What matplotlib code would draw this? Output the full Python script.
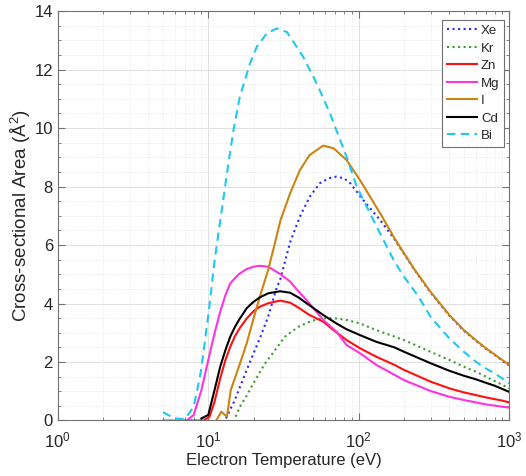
import matplotlib
matplotlib.use('Agg')
import matplotlib.pyplot as plt
from matplotlib.ticker import LogLocator, MultipleLocator

# Electron temperature (eV) and cross-sectional area (A^2)
xe_t = [13.1, 15, 18, 20, 22, 25, 28.6, 30, 35, 40.6, 47.2, 55, 63, 71, 80, 88, 107, 139, 173,
        200, 236, 300, 400, 500, 600, 700, 800, 900, 1000]
xe_s = [0.07, 0.70, 1.73, 2.30, 2.81, 3.55, 4.57, 4.80, 6.1, 6.97, 7.65, 8.11, 8.28, 8.34, 8.28, 8.11, 7.54,
        6.85, 6.2, 5.70, 5.13, 4.38, 3.59, 3.07, 2.73, 2.45, 2.24, 2.05, 1.88]

kr_t = [15.2, 16.2, 18, 19.4, 22, 23.9, 27.8, 32.3, 39.8, 48.8, 58, 68, 83, 102, 131, 173, 200,
        300, 400, 500, 600, 700, 800, 900, 1000]
kr_s = [0.13, 0.47, 0.85, 1.16, 1.65, 1.96, 2.41, 2.87, 3.21, 3.41, 3.49, 3.50, 3.44, 3.32, 3.09, 2.87, 2.75,
        2.35, 2.07, 1.84, 1.67, 1.50, 1.35, 1.22, 1.10]

zn_t = [7.0, 9.3, 10.2, 11, 12, 13, 14, 15, 16, 18, 20, 22, 25, 30, 35, 40, 47, 58, 68, 83, 102,
        131, 173, 200, 300, 400, 500, 600, 700, 800, 900, 1000]
zn_s = [0.0, 0.0, 0.13, 0.64, 1.44, 2.07, 2.52, 2.87, 3.12, 3.49, 3.74, 3.89, 4.01, 4.10, 4.03, 3.85, 3.61,
        3.38, 3.09, 2.75, 2.47, 2.18, 1.90, 1.73, 1.33, 1.10, 0.96, 0.87, 0.79, 0.73, 0.68, 0.62]

mg_t = [5.0, 7.2, 8, 9, 10, 11, 12, 13, 14, 15, 16, 18, 20, 22, 25, 30, 35, 40, 45, 58, 71, 83,
        102, 131, 173, 200, 300, 400, 500, 600, 700, 800, 900, 1000]
mg_s = [0.0, 0.0, 0.19, 1.04, 2.07, 2.98, 3.72, 4.29, 4.69, 4.86, 5.01, 5.18, 5.26, 5.29, 5.26, 5.01, 4.75,
        4.40, 4.12, 3.44, 3.04, 2.58, 2.30, 1.90, 1.56, 1.38, 1.01, 0.81, 0.70, 0.62, 0.55, 0.51, 0.47, 0.44]

i_t = [11.3, 12.2, 13.3, 14.1, 16, 18, 20, 22, 25, 27, 30.2, 35, 40.6, 47.2, 58, 68, 83, 102, 139,
       173, 200, 236, 300, 400, 500, 600, 700, 800, 900, 1000]
i_s = [0.0, 0.30, 0.13, 1.04, 1.85, 2.64, 3.49, 4.23, 5.15, 5.83, 6.85, 7.77, 8.56, 9.08, 9.40, 9.31, 8.91,
       8.22, 7.08, 6.23, 5.72, 5.15, 4.40, 3.61, 3.09, 2.75, 2.47, 2.26, 2.07, 1.90]

cd_t = [9.0, 10, 11, 12, 13, 14, 15, 16, 18, 20, 22, 25, 30, 35, 40, 45, 58, 71, 83, 102, 131, 173,
        200, 300, 400, 500, 600, 700, 800, 900, 1000]
cd_s = [0.07, 0.19, 1.04, 1.84, 2.41, 2.87, 3.19, 3.44, 3.84, 4.06, 4.21, 4.35, 4.42, 4.37, 4.20, 4.01, 3.61,
        3.32, 3.12, 2.92, 2.69, 2.50, 2.35, 1.96, 1.70, 1.53, 1.41, 1.29, 1.19, 1.08, 0.98]

bi_t = [5.0, 6.0, 7.0, 8.0, 8.8, 9.0, 10, 11, 12.2, 13.6, 14.7, 16.2, 18.9, 21, 24.5, 28.6, 33.4, 42.7,
        50, 55, 64.4, 71, 83, 97, 119, 146, 173, 200, 250, 300, 400, 500, 600, 700, 800, 900, 1000]
bi_s = [0.28, 0.07, 0.05, 0.47, 1.5, 1.8, 3.6, 5.45, 7.08, 8.79, 9.93, 11.07, 12.2, 12.78, 13.24, 13.41,
        13.28, 12.44, 11.75, 11.3, 10.5, 9.93, 9.02, 8.0, 7.08, 6.17, 5.43, 4.92, 4.23, 3.55, 2.81, 2.35,
        2.01, 1.78, 1.61, 1.44, 1.27]

names = ['Xe', 'Kr', 'Zn', 'Mg', 'I', 'Cd', 'Bi']
colors = ['#2a2aff', '#3f9a2f', '#ff1010', '#ff33dd', '#cc8410', '#000000', '#1ec8f5']
styles = [':', ':', '-', '-', '-', '-', '--']

plt.rcParams['font.family'] = ['Liberation Sans', 'DejaVu Sans']
plt.rcParams['mathtext.fontset'] = 'custom'
plt.rcParams['mathtext.rm'] = 'Liberation Sans'
plt.rcParams['mathtext.it'] = 'Liberation Sans:italic'

fig = plt.figure(figsize=(5.26, 4.76), dpi=100)
ax = fig.add_axes([0.110, 0.1166, 0.858, 0.860])

series = [(xe_t, xe_s), (kr_t, kr_s), (zn_t, zn_s), (mg_t, mg_s),
          (i_t, i_s), (cd_t, cd_s), (bi_t, bi_s)]
for (t, s), name, col, ls in zip(series, names, colors, styles):
    line, = ax.plot(t, s, ls, color=col, lw=1.5, label=name)
    if ls == '--':
        line.set_dashes((4, 2.6))

ax.set_xscale('log')
ax.set_xlim(1, 1000)
ax.set_ylim(0, 14)
ax.yaxis.set_major_locator(MultipleLocator(2))
ax.yaxis.set_minor_locator(MultipleLocator(0.5))
ax.xaxis.set_minor_locator(LogLocator(base=10, subs=range(2, 10)))

txt = '#262626'
ax.grid(which='major', color='#dcdcdc', lw=0.6, ls='-')
ax.grid(which='minor', color='#e2e2e2', lw=0.6, ls=':')
ax.set_axisbelow(True)
for sp in ax.spines.values():
    sp.set_color('#707070')
    sp.set_linewidth(0.8)
ax.tick_params(which='both', direction='in', top=True, right=True, colors='#707070',
               labelcolor=txt, labelsize=12)
ax.tick_params(which='major', length=5)
ax.tick_params(which='minor', length=2.5)
ax.tick_params(axis='x', which='major', pad=7)

ax.set_xlabel('Electron Temperature (eV)', fontsize=12, color=txt, labelpad=2)
ax.set_ylabel('Cross-sectional Area (Å$^2$)', fontsize=13.5, color=txt, labelpad=1)

leg = ax.legend(loc='upper right', bbox_to_anchor=(0.989, 0.978), borderaxespad=0,
                fontsize=9.5, fancybox=False, framealpha=1, edgecolor='#707070',
                handlelength=2.3, handletextpad=0.3, borderpad=0.35, labelspacing=0.4)
leg.get_frame().set_linewidth(0.8)
for t in leg.get_texts():
    t.set_color(txt)

fig.savefig('out.png', dpi=100)
